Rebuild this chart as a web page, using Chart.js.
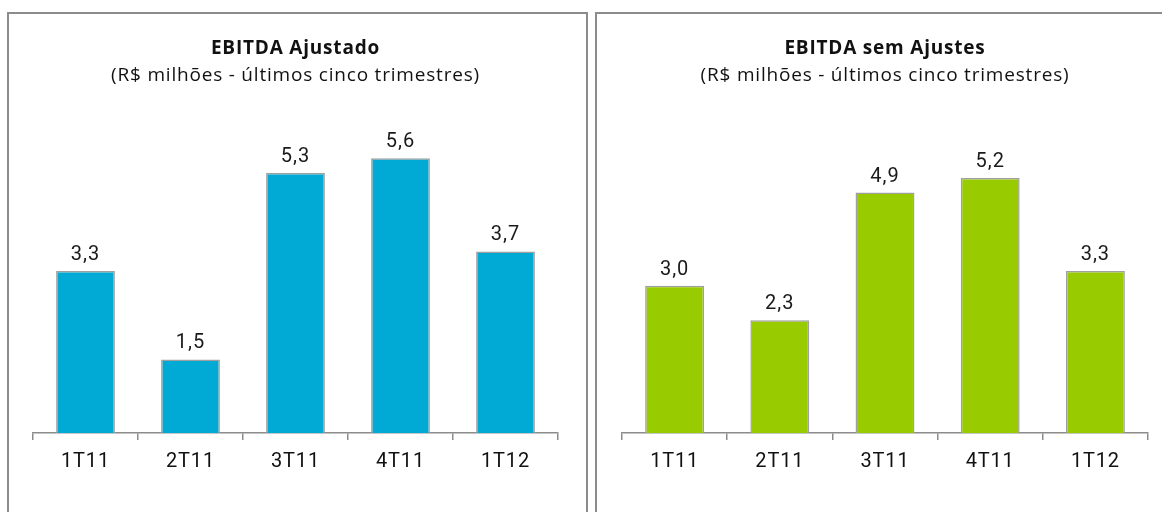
<!DOCTYPE html>
<html>
<head>
<meta charset="utf-8">
<script src="https://cdn.jsdelivr.net/npm/chart.js@4.4.0/dist/chart.umd.min.js"></script>
<style>
  body{margin:0;background:#fff;width:1162px;height:512px;overflow:hidden;position:relative}
  .panel{position:absolute;top:12px;height:520px;border:2px solid #8c8c8c;box-sizing:border-box;background:#fff}
  #p1{left:7px;width:581px}
  #p2{left:595px;width:600px}
  canvas{position:absolute;left:0;top:0}
</style>
</head>
<body>
<div class="panel" id="p1"><canvas id="c1" width="577" height="498"></canvas></div>
<div class="panel" id="p2"><canvas id="c2" width="577" height="498"></canvas></div>
<script>
var quarters=['1T11','2T11','3T11','4T11','1T12']
var ebitdaAjustado=[3.3,1.5,5.3,5.6,3.7]
var ebitdaSemAjustes=[3.0,2.3,4.9,5.2,3.3]
var subtitleText='(R$ milhões - últimos cinco trimestres)'

// wider letter spacing for the titles, normal for the axis (x scale is drawn after datasets)
var spacing={
    id:'spacing',
    beforeDraw:function(chart){
        chart.ctx.letterSpacing='0.8px'
    },
    afterDatasetsDraw:function(chart){
        chart.ctx.letterSpacing='0px'
    }
}

// draws the value above each bar, with comma decimals
var valueLabels={
    id:'valueLabels',
    afterDatasetsDraw:function(chart){
        var ctx=chart.ctx
        var meta=chart.getDatasetMeta(0)
        ctx.save()
        ctx.font='20px Roboto'
        ctx.letterSpacing='1px'
        ctx.fillStyle='#1a1a1a'
        ctx.textAlign='center'
        ctx.textBaseline='middle'
        meta.data.forEach(function(bar,i){
            var v=chart.data.datasets[0].data[i]
            ctx.fillText(v.toFixed(1).replace('.',','),bar.x,bar.y-16)
        })
        ctx.restore()
    }
}

function makeChart(id,title,values,color,padL,padR){
    var c=document.getElementById(id).getContext('2d')
    return new Chart(c,{
        type:'bar',
        data:{
            labels:quarters,
            datasets:[{
                data:values,
                backgroundColor:color,
                borderColor:'#a0a0a0',
                borderWidth:1.5,
                barPercentage:0.56,
                categoryPercentage:1
            }]
        },
        options:{
            responsive:false,
            animation:false,
            layout:{padding:{left:padL,right:padR,bottom:28,top:0}},
            plugins:{
                legend:{display:false},
                tooltip:{enabled:false},
                title:{display:true,text:title,color:'#111',
                    font:{family:'Open Sans',size:19,weight:'bold'},padding:{top:23,bottom:4}},
                subtitle:{display:true,text:subtitleText,color:'#111',
                    font:{family:'Open Sans',size:19},padding:{top:0,bottom:3}}
            },
            scales:{
                y:{display:false,min:0,max:7},
                x:{
                    z:1,
                    border:{display:true,color:'#8c8c8c',width:1.5},
                    grid:{offset:true,drawOnChartArea:false,drawTicks:true,tickLength:7,color:'#8c8c8c',lineWidth:1.5},
                    ticks:{color:'#111',padding:10,font:{family:'Roboto',size:20}}
                }
            }
        },
        plugins:[spacing,valueLabels]
    })
}

makeChart('c1','EBITDA Ajustado',ebitdaAjustado,'#00aad4',24,28)
makeChart('c2','EBITDA sem Ajustes',ebitdaSemAjustes,'#99cc00',25,26)
</script>
</body>
</html>
